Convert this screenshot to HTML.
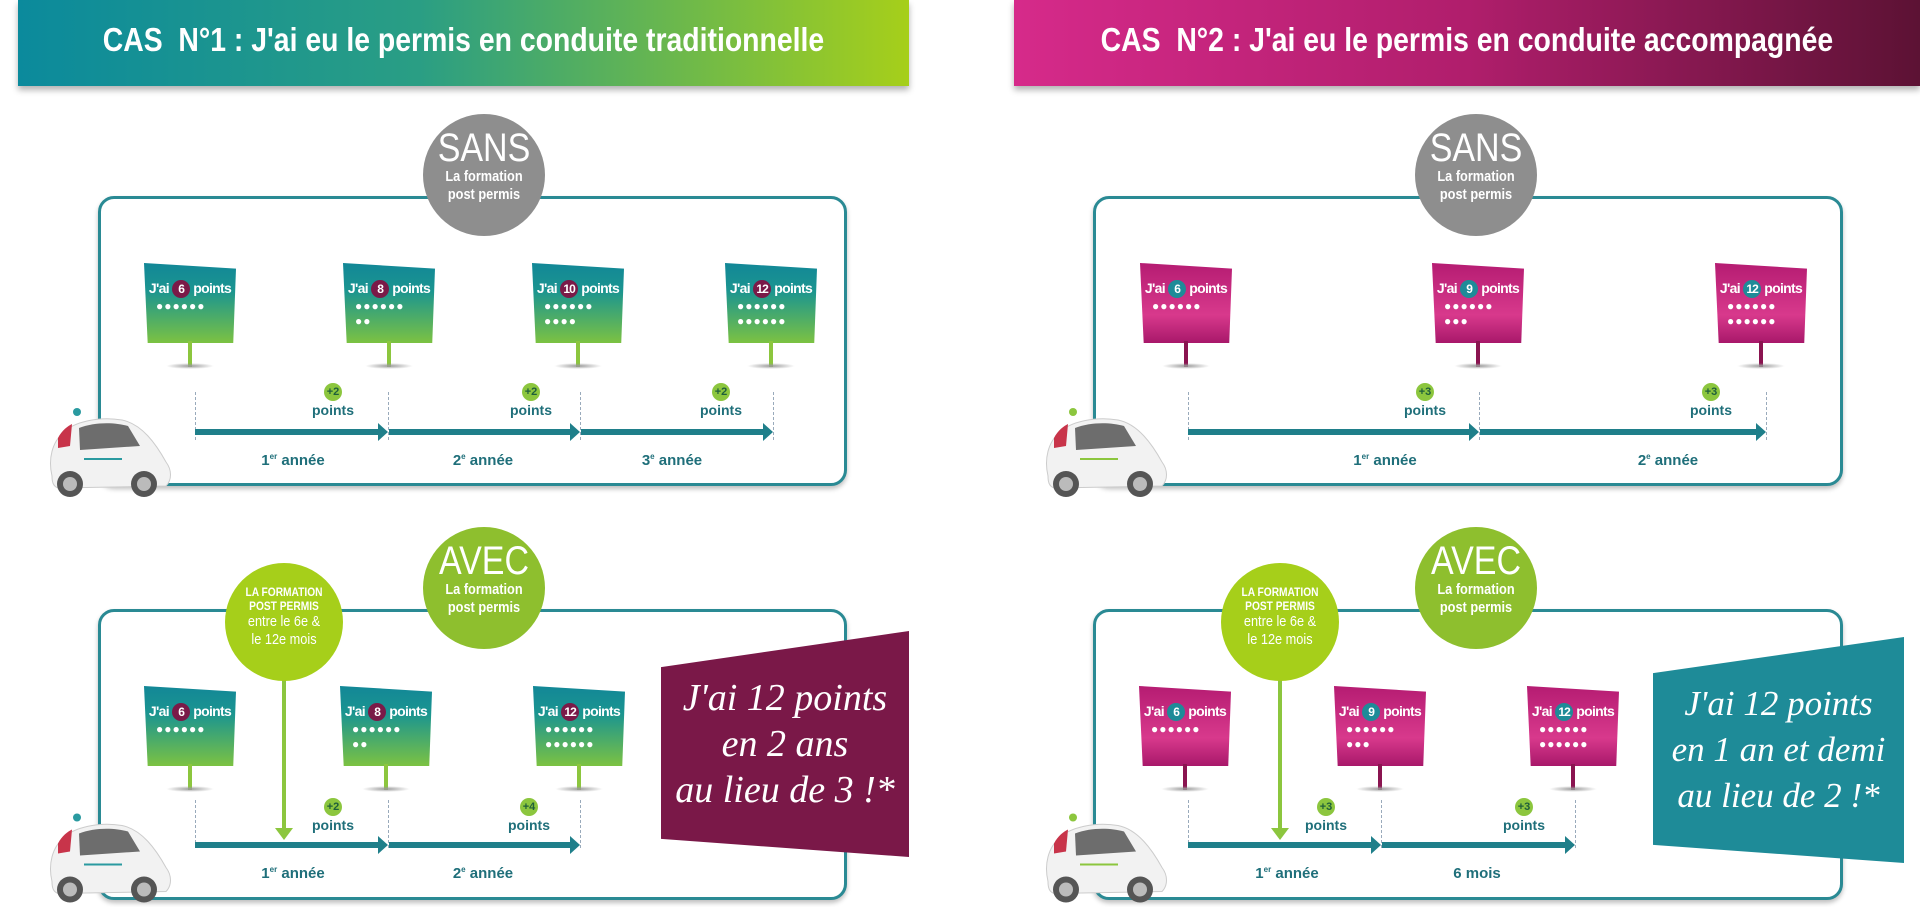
<!DOCTYPE html>
<html><head><meta charset="utf-8"><style>
*{margin:0;padding:0;box-sizing:border-box}
body{width:1920px;height:907px;background:#fff;position:relative;overflow:hidden;font-family:"Liberation Sans",sans-serif}
.abs{position:absolute}
.ban{position:absolute;height:86px;color:#fff;font-size:33px;line-height:80px;text-align:center;box-shadow:0 4px 6px rgba(0,0,0,.3);overflow:hidden;white-space:nowrap;font-weight:bold}
.ban span{display:inline-block;transform:scaleX(.86)}
.panel{position:absolute;border:3px solid #2a8a94;border-radius:16px;background:#fff;box-shadow:0 3px 5px rgba(0,0,0,.25)}
.circ{position:absolute;border-radius:50%;color:#fff;text-align:center;font-weight:bold}
.circ .big{font-size:40px;line-height:40px;display:block;font-weight:normal;transform:scaleX(.85)}
.circ .sm{font-size:15px;line-height:18px;display:block;transform:scaleX(.85)}
.sw{position:absolute;width:92px;height:110px}
.sign{position:absolute;left:0;top:0;width:92px;height:80px;clip-path:polygon(0 0,100% 7%,97% 100%,4% 100%);color:#fff;text-align:center}
.g{background:linear-gradient(#128797,#1b9590 35%,#7cc242)}
.p{background:linear-gradient(#b51c72,#d8398c 65%,#a8186a)}
.sign .t{position:absolute;top:17px;left:0;width:100%;font-size:14px;letter-spacing:-.7px;white-space:nowrap;font-weight:bold}
.sign .n{display:inline-block;width:18px;height:18px;border-radius:50%;background:#7a1a48;font-size:12px;line-height:18px;letter-spacing:-1px;text-align:center}
.p .n{background:#1e8b98}
.sign .d{position:absolute;top:36px;left:12px;width:76px;text-align:left;font-size:12px;line-height:15px;letter-spacing:1px;white-space:nowrap}
.pole{position:absolute;left:44px;top:78px;width:4px;height:26px;background:#8cc63e}
.pp{background:#8a1450}
.sh{position:absolute;left:22px;top:100px;width:48px;height:6px;border-radius:50%;background:radial-gradient(#999,rgba(200,200,200,0) 70%)}
.ar{position:absolute;height:6px;background:#1f7f8a}
.ar:after{content:"";position:absolute;right:-8px;top:-6px;border-left:10px solid #1f7f8a;border-top:9px solid transparent;border-bottom:9px solid transparent}
.dash{position:absolute;width:0;border-left:1px dashed #9ab;height:48px}
.lab{position:absolute;color:#1f6f7a;font-weight:bold;font-size:15px;transform:translateX(-50%);white-space:nowrap}
.lab sup{font-size:8px}
.plus{position:absolute;transform:translateX(-50%);text-align:center;color:#1f6f7a;font-weight:bold;font-size:14px;line-height:14px}
.plus b{display:block;margin:0 auto 2px;width:18px;height:18px;border-radius:50%;background:#8cc63e;color:#1f5f3a;font-size:11px;line-height:18px}
.msg{position:absolute;color:#fff;font-family:"Liberation Serif",serif;font-style:italic;font-size:38px;line-height:46px;text-align:center;display:flex;align-items:center;justify-content:center;white-space:nowrap}
.down{position:absolute;width:4px;background:#8cc63e}
.down:after{content:"";position:absolute;left:-7px;bottom:-10px;border-top:12px solid #8cc63e;border-left:9px solid transparent;border-right:9px solid transparent}
</style></head><body>

<!-- Banners -->
<div class="ban" style="left:18px;top:0;width:891px;background:linear-gradient(90deg,#0b8a9c,#2a9e84 45%,#a6cf1a)"><span>CAS&nbsp; N°1 : J'ai eu le permis en conduite traditionnelle</span></div>
<div class="ban" style="left:1014px;top:0;width:906px;background:linear-gradient(90deg,#d62a8a,#b01e6c 50%,#5c1234)"><span>CAS&nbsp; N°2 : J'ai eu le permis en conduite accompagnée</span></div>

<!-- CAS 1 top -->
<div class="panel" style="left:98px;top:196px;width:749px;height:290px"></div>
<div class="circ" style="left:423px;top:114px;width:122px;height:122px;background:#8e8e8e;padding-top:14px"><span class="big">SANS</span><span class="sm">La formation</span><span class="sm">post permis</span></div>

<div class="sw" style="left:144px;top:263px"><div class="sign g"><div class="t">J'ai <span class="n">6</span> points</div><div class="d">●●●●●●</div></div><div class="pole"></div><div class="sh"></div></div>
<div class="sw" style="left:343px;top:263px"><div class="sign g"><div class="t">J'ai <span class="n">8</span> points</div><div class="d">●●●●●●<br>●●</div></div><div class="pole"></div><div class="sh"></div></div>
<div class="sw" style="left:532px;top:263px"><div class="sign g"><div class="t">J'ai <span class="n">10</span> points</div><div class="d">●●●●●●<br>●●●●</div></div><div class="pole"></div><div class="sh"></div></div>
<div class="sw" style="left:725px;top:263px"><div class="sign g"><div class="t">J'ai <span class="n">12</span> points</div><div class="d">●●●●●●<br>●●●●●●</div></div><div class="pole"></div><div class="sh"></div></div>

<div class="dash" style="left:195px;top:392px"></div><div class="dash" style="left:388px;top:392px"></div><div class="dash" style="left:580px;top:392px"></div><div class="dash" style="left:773px;top:392px"></div>
<div class="ar" style="left:195px;top:429px;width:185px"></div>
<div class="ar" style="left:389px;top:429px;width:183px"></div>
<div class="ar" style="left:581px;top:429px;width:184px"></div>
<div class="plus" style="left:333px;top:383px"><b>+2</b>points</div>
<div class="plus" style="left:531px;top:383px"><b>+2</b>points</div>
<div class="plus" style="left:721px;top:383px"><b>+2</b>points</div>
<div class="lab" style="left:293px;top:452px">1<sup>er</sup> année</div>
<div class="lab" style="left:483px;top:452px">2<sup>e</sup> année</div>
<div class="lab" style="left:672px;top:452px">3<sup>e</sup> année</div>

<!-- CAS 1 bottom -->
<div class="panel" style="left:98px;top:609px;width:749px;height:291px"></div>
<div class="circ" style="left:423px;top:527px;width:122px;height:122px;background:#8ebf2e;padding-top:14px"><span class="big">AVEC</span><span class="sm">La formation</span><span class="sm">post permis</span></div>

<div class="sw" style="left:144px;top:686px"><div class="sign g"><div class="t">J'ai <span class="n">6</span> points</div><div class="d">●●●●●●</div></div><div class="pole"></div><div class="sh"></div></div>
<div class="sw" style="left:340px;top:686px"><div class="sign g"><div class="t">J'ai <span class="n">8</span> points</div><div class="d">●●●●●●<br>●●</div></div><div class="pole"></div><div class="sh"></div></div>
<div class="sw" style="left:533px;top:686px"><div class="sign g"><div class="t">J'ai <span class="n">12</span> points</div><div class="d">●●●●●●<br>●●●●●●</div></div><div class="pole"></div><div class="sh"></div></div>

<div class="down" style="left:282px;top:680px;height:150px"></div>
<div class="circ" style="left:225px;top:563px;width:118px;height:118px;background:#a6cf1a;padding-top:22px"><span class="sm" style="font-size:12px;line-height:14px">LA FORMATION</span><span class="sm" style="font-size:12px;line-height:14px">POST PERMIS</span><span class="sm" style="font-weight:normal">entre le 6e &amp;</span><span class="sm" style="font-weight:normal">le 12e mois</span></div>

<div class="dash" style="left:195px;top:800px"></div><div class="dash" style="left:388px;top:800px"></div><div class="dash" style="left:580px;top:800px"></div>
<div class="ar" style="left:195px;top:842px;width:185px"></div>
<div class="ar" style="left:389px;top:842px;width:183px"></div>
<div class="plus" style="left:333px;top:798px"><b>+2</b>points</div>
<div class="plus" style="left:529px;top:798px"><b>+4</b>points</div>
<div class="lab" style="left:293px;top:865px">1<sup>er</sup> année</div>
<div class="lab" style="left:483px;top:865px">2<sup>e</sup> année</div>

<div class="msg" style="left:661px;top:631px;width:248px;height:226px;background:#7a1848;clip-path:polygon(0 16%,100% 0,100% 100%,0 92%)">J'ai 12 points<br>en 2 ans<br>au lieu de 3 !*</div>

<!-- CAS 2 top -->
<div class="panel" style="left:1093px;top:196px;width:750px;height:290px"></div>
<div class="circ" style="left:1415px;top:114px;width:122px;height:122px;background:#8e8e8e;padding-top:14px"><span class="big">SANS</span><span class="sm">La formation</span><span class="sm">post permis</span></div>

<div class="sw" style="left:1140px;top:263px"><div class="sign p"><div class="t">J'ai <span class="n">6</span> points</div><div class="d">●●●●●●</div></div><div class="pole pp"></div><div class="sh"></div></div>
<div class="sw" style="left:1432px;top:263px"><div class="sign p"><div class="t">J'ai <span class="n">9</span> points</div><div class="d">●●●●●●<br>●●●</div></div><div class="pole pp"></div><div class="sh"></div></div>
<div class="sw" style="left:1715px;top:263px"><div class="sign p"><div class="t">J'ai <span class="n">12</span> points</div><div class="d">●●●●●●<br>●●●●●●</div></div><div class="pole pp"></div><div class="sh"></div></div>

<div class="dash" style="left:1188px;top:392px"></div><div class="dash" style="left:1479px;top:392px"></div><div class="dash" style="left:1766px;top:392px"></div>
<div class="ar" style="left:1188px;top:429px;width:283px"></div>
<div class="ar" style="left:1480px;top:429px;width:278px"></div>
<div class="plus" style="left:1425px;top:383px"><b>+3</b>points</div>
<div class="plus" style="left:1711px;top:383px"><b>+3</b>points</div>
<div class="lab" style="left:1385px;top:452px">1<sup>er</sup> année</div>
<div class="lab" style="left:1668px;top:452px">2<sup>e</sup> année</div>

<!-- CAS 2 bottom -->
<div class="panel" style="left:1093px;top:609px;width:750px;height:291px"></div>
<div class="circ" style="left:1415px;top:527px;width:122px;height:122px;background:#8ebf2e;padding-top:14px"><span class="big">AVEC</span><span class="sm">La formation</span><span class="sm">post permis</span></div>

<div class="sw" style="left:1139px;top:686px"><div class="sign p"><div class="t">J'ai <span class="n">6</span> points</div><div class="d">●●●●●●</div></div><div class="pole pp"></div><div class="sh"></div></div>
<div class="sw" style="left:1334px;top:686px"><div class="sign p"><div class="t">J'ai <span class="n">9</span> points</div><div class="d">●●●●●●<br>●●●</div></div><div class="pole pp"></div><div class="sh"></div></div>
<div class="sw" style="left:1527px;top:686px"><div class="sign p"><div class="t">J'ai <span class="n">12</span> points</div><div class="d">●●●●●●<br>●●●●●●</div></div><div class="pole pp"></div><div class="sh"></div></div>

<div class="down" style="left:1278px;top:680px;height:150px"></div>
<div class="circ" style="left:1221px;top:563px;width:118px;height:118px;background:#a6cf1a;padding-top:22px"><span class="sm" style="font-size:12px;line-height:14px">LA FORMATION</span><span class="sm" style="font-size:12px;line-height:14px">POST PERMIS</span><span class="sm" style="font-weight:normal">entre le 6e &amp;</span><span class="sm" style="font-weight:normal">le 12e mois</span></div>

<div class="dash" style="left:1188px;top:800px"></div><div class="dash" style="left:1381px;top:800px"></div><div class="dash" style="left:1575px;top:800px"></div>
<div class="ar" style="left:1188px;top:842px;width:185px"></div>
<div class="ar" style="left:1382px;top:842px;width:185px"></div>
<div class="plus" style="left:1326px;top:798px"><b>+3</b>points</div>
<div class="plus" style="left:1524px;top:798px"><b>+3</b>points</div>
<div class="lab" style="left:1287px;top:865px">1<sup>er</sup> année</div>
<div class="lab" style="left:1477px;top:865px">6 mois</div>

<div class="msg" style="left:1653px;top:637px;width:251px;height:226px;background:#1e8b98;clip-path:polygon(0 16%,100% 0,100% 100%,0 92%);font-size:35px">J'ai 12 points<br>en 1 an et demi<br>au lieu de 2 !*</div>

<!-- Cars -->
<svg class="abs" style="left:44px;top:404px" width="132" height="96" viewBox="0 0 132 96">
<circle cx="33" cy="8" r="4" fill="#2a9aa0"/>
<path d="M8 72 C4 55 8 38 20 28 C30 18 55 12 78 16 C98 20 112 40 122 58 C128 66 128 76 122 82 L14 84 C9 82 8 78 8 72Z" fill="#f2f2f2" stroke="#ccc"/>
<path d="M14 34 C18 26 24 22 28 20 L26 42 L14 44Z" fill="#c8344a"/>
<path d="M35 24 C50 18 70 18 84 22 L96 42 L36 46Z" fill="#6d6d6d"/>
<rect x="40" y="54" width="38" height="2" fill="#2a9aa0"/>
<circle cx="26" cy="80" r="13" fill="#555"/><circle cx="26" cy="80" r="7" fill="#bbb"/>
<circle cx="100" cy="80" r="13" fill="#555"/><circle cx="100" cy="80" r="7" fill="#bbb"/>
</svg>
<svg class="abs" style="left:44px;top:808px" width="132" height="99" viewBox="0 0 132 96">
<circle cx="33" cy="8" r="4" fill="#2a9aa0"/>
<path d="M8 72 C4 55 8 38 20 28 C30 18 55 12 78 16 C98 20 112 40 122 58 C128 66 128 76 122 82 L14 84 C9 82 8 78 8 72Z" fill="#f2f2f2" stroke="#ccc"/>
<path d="M14 34 C18 26 24 22 28 20 L26 42 L14 44Z" fill="#c8344a"/>
<path d="M35 24 C50 18 70 18 84 22 L96 42 L36 46Z" fill="#6d6d6d"/>
<rect x="40" y="54" width="38" height="2" fill="#2a9aa0"/>
<circle cx="26" cy="80" r="13" fill="#555"/><circle cx="26" cy="80" r="7" fill="#bbb"/>
<circle cx="100" cy="80" r="13" fill="#555"/><circle cx="100" cy="80" r="7" fill="#bbb"/>
</svg>
<svg class="abs" style="left:1040px;top:404px" width="132" height="96" viewBox="0 0 132 96">
<circle cx="33" cy="8" r="4" fill="#8cc63e"/>
<path d="M8 72 C4 55 8 38 20 28 C30 18 55 12 78 16 C98 20 112 40 122 58 C128 66 128 76 122 82 L14 84 C9 82 8 78 8 72Z" fill="#f2f2f2" stroke="#ccc"/>
<path d="M14 34 C18 26 24 22 28 20 L26 42 L14 44Z" fill="#c8344a"/>
<path d="M35 24 C50 18 70 18 84 22 L96 42 L36 46Z" fill="#6d6d6d"/>
<rect x="40" y="54" width="38" height="2" fill="#8cc63e"/>
<circle cx="26" cy="80" r="13" fill="#555"/><circle cx="26" cy="80" r="7" fill="#bbb"/>
<circle cx="100" cy="80" r="13" fill="#555"/><circle cx="100" cy="80" r="7" fill="#bbb"/>
</svg>
<svg class="abs" style="left:1040px;top:808px" width="132" height="99" viewBox="0 0 132 96">
<circle cx="33" cy="8" r="4" fill="#8cc63e"/>
<path d="M8 72 C4 55 8 38 20 28 C30 18 55 12 78 16 C98 20 112 40 122 58 C128 66 128 76 122 82 L14 84 C9 82 8 78 8 72Z" fill="#f2f2f2" stroke="#ccc"/>
<path d="M14 34 C18 26 24 22 28 20 L26 42 L14 44Z" fill="#c8344a"/>
<path d="M35 24 C50 18 70 18 84 22 L96 42 L36 46Z" fill="#6d6d6d"/>
<rect x="40" y="54" width="38" height="2" fill="#8cc63e"/>
<circle cx="26" cy="80" r="13" fill="#555"/><circle cx="26" cy="80" r="7" fill="#bbb"/>
<circle cx="100" cy="80" r="13" fill="#555"/><circle cx="100" cy="80" r="7" fill="#bbb"/>
</svg>
</body></html>
